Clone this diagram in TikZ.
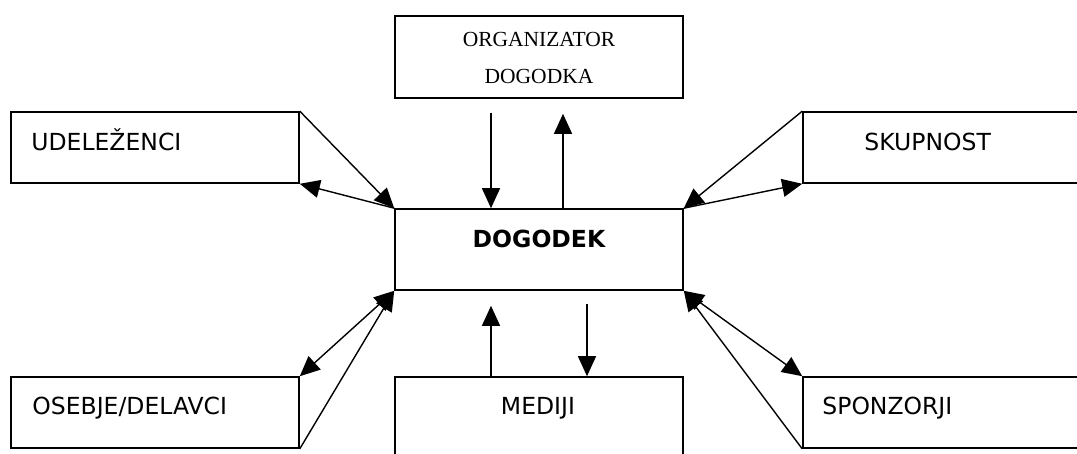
\documentclass[tikz,border=0pt]{standalone}
\usepackage{fontspec}
\setmainfont{DejaVu Sans}
\newfontfamily\timesfont{Liberation Serif}
\usetikzlibrary{arrows.meta}

\begin{document}
\begin{tikzpicture}[
			x=1pt, y=-1pt,
			line cap=butt,
			font=\fontsize{23.5}{28}\selectfont,
			box/.style={draw, line width=1.6pt, minimum width=288pt, minimum height=71pt, inner sep=0pt},
			arr/.style={line width=1.4pt, -{Triangle[length=20pt, width=18pt]}},
			darr/.style={line width=1.4pt, {Triangle[length=20pt, width=18pt]}-{Triangle[length=20pt, width=18pt]}},
		]
			\useasboundingbox (0, 0) rectangle (1077, 453);

			% boxes
			\node[box] (udel) at (155, 147.5) {};
			\node[box] (skup) at (947, 147.5) {};
			\node[box, minimum height=82pt] (org) at (539, 57) {};
			\node[box, minimum height=81pt] (dog) at (539, 249.5) {};
			\node[box] (oseb) at (155, 412.5) {};
			\node[box] (spon) at (947, 412.5) {};
			\node[box, minimum height=93pt] (medi) at (539, 423.5) {};

			% texts
			\node[anchor=base west, inner sep=0pt] (tudel) at ([xshift=21pt, yshift=-3pt]udel.west) {UDELEŽENCI};
			\node[anchor=base west, inner sep=0pt] (tskup) at ([xshift=62pt, yshift=-3pt]skup.west) {SKUPNOST};
			\node[anchor=base west, inner sep=0pt] (toseb) at ([xshift=22pt, yshift=-1.5pt]oseb.west) {OSEBJE/DELAVCI};
			\node[anchor=base west, inner sep=0pt] (tspon) at ([xshift=20pt, yshift=-1.5pt]spon.west) {SPONZORJI};
			\node[anchor=base, inner sep=0pt] (tmedi) at (538, 414) {MEDIJI};
			\node[anchor=base, inner sep=0pt, font=\fontsize{23.5}{28}\selectfont\bfseries] (tdog) at (539, 247) {DOGODEK};
			\node[anchor=base, inner sep=0pt, font=\fontsize{21.5}{25}\timesfont] (torg1) at (539, 46.5) {ORGANIZATOR};
			\node[anchor=base, inner sep=0pt, font=\fontsize{21.5}{25}\timesfont] (torg2) at (539, 83.5) {DOGODKA};

			% side connectors
			\draw[arr] (udel.north east) -- (dog.north west);
			\draw[arr] (dog.north west) -- (udel.south east);
			\draw[arr] (skup.north west) -- (dog.north east);
			\draw[arr] (dog.north east) -- (skup.south west);
			\draw[darr] (oseb.north east) -- (dog.south west);
			\draw[arr] (oseb.south east) -- (dog.south west);
			\draw[darr] (dog.south east) -- (spon.north west);
			\draw[arr] (spon.south west) -- (dog.south east);

			% vertical connectors
			\coordinate (o1) at ([xshift=-48pt, yshift=-14pt]org.south);
			\draw[arr] (o1) -- (o1 |- dog.north);
			\coordinate (o2) at ([xshift=24pt, yshift=-15pt]org.south);
			\draw[arr] (o2 |- dog.north) -- (o2);
			\coordinate (m1) at ([xshift=-48pt, yshift=-15pt]dog.south);
			\draw[arr] (m1 |- medi.north) -- (m1);
			\coordinate (m2) at ([xshift=48pt, yshift=-13pt]dog.south);
			\draw[arr] (m2) -- (m2 |- medi.north);
		\end{tikzpicture}
\end{document}
